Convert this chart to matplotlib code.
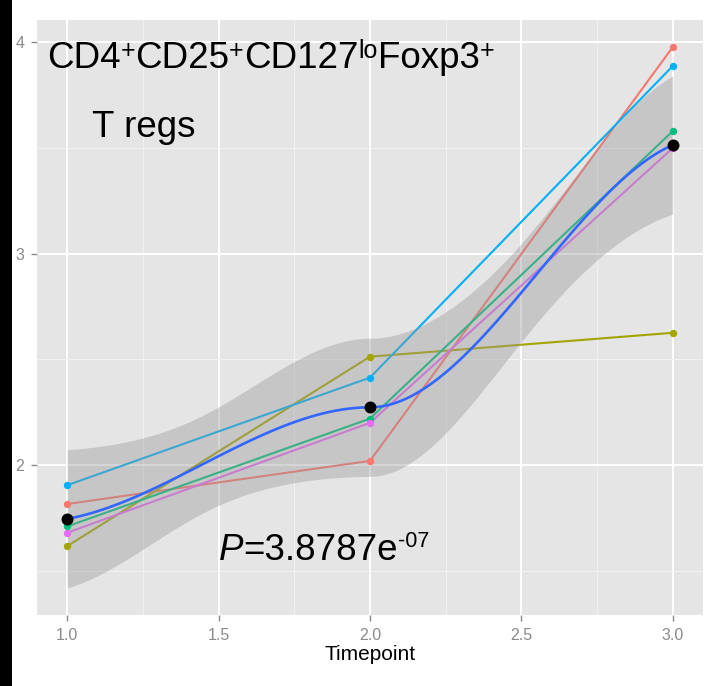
import numpy as np
import matplotlib
matplotlib.use("Agg")
import matplotlib.pyplot as plt
from matplotlib.patches import Rectangle

# ---------------- data ----------------
timepoints = [1.0, 2.0, 3.0]
subject_red = [1.816, 2.020, 3.978]
subject_olive = [1.617, 2.513, 2.626]
subject_green = [1.710, 2.220, 3.580]
subject_blue = [1.905, 2.414, 3.888]
subject_magenta = [1.680, 2.200, 3.500]
series = [subject_red, subject_olive, subject_green, subject_blue, subject_magenta]
series_colors = ['#F8766D', '#A3A500', '#00BF7D', '#00B0F6', '#E76BF3']

x_ticks = [1.0, 1.5, 2.0, 2.5, 3.0]
x_tick_labels = ['1.0', '1.5', '2.0', '2.5', '3.0']
y_ticks = [2, 3, 4]
y_tick_labels = ['2', '3', '4']
x_label = 'Timepoint'
# rich text pieces: (text, is_superscript, italic)
title_line1 = [('CD4', False, False), ('+', True, False), ('CD25', False, False),
               ('+', True, False), ('CD127', False, False), ('lo', True, False),
               ('Foxp3', False, False), ('+', True, False)]
title_line2 = [('T regs', False, False)]
p_label = [('P', False, True), ('=3.8787e', False, False), ('-07', True, False)]

LOESS_SPAN = 0.75
T_975_DF12 = 2.179  # 97.5% t quantile, 12 residual df

# ---------------- loess (kd-vertex + Hermite interpolation, as in R) ----------------
x_all = np.concatenate([np.asarray(timepoints) for _ in series])
y_all = np.concatenate([np.asarray(s) for s in series])


def vertex_rows(x, v, span):
    n = len(x)
    q = int(np.floor(n * span))
    d = np.abs(x - v)
    h = np.sort(d)[q - 1]
    r = d / h
    w = np.where(r < 1, (1 - r ** 3) ** 3, 0.0)
    sw = np.sqrt(w)
    u = x - v
    X = np.column_stack([np.ones(n), u, u ** 2]) * sw[:, None]
    norms = np.linalg.norm(X, axis=0)
    norms[norms == 0] = 1.0
    P = np.linalg.pinv(X / norms, rcond=1e-7) * sw[None, :]
    P = P / norms[:, None]
    return P[0], P[1]


verts = np.unique(x_all)
vrows = [vertex_rows(x_all, v, LOESS_SPAN) for v in verts]


def operator_at(xx):
    i = int(np.clip(np.searchsorted(verts, xx, side='right') - 1, 0, len(verts) - 2))
    x0, x1 = verts[i], verts[i + 1]
    hh = x1 - x0
    t = (xx - x0) / hh
    h00 = 2 * t ** 3 - 3 * t ** 2 + 1
    h10 = t ** 3 - 2 * t ** 2 + t
    h01 = -2 * t ** 3 + 3 * t ** 2
    h11 = t ** 3 - t ** 2
    return (h00 * vrows[i][0] + h10 * hh * vrows[i][1]
            + h01 * vrows[i + 1][0] + h11 * hh * vrows[i + 1][1])


grid = np.linspace(verts[0], verts[-1], 120)
L_grid = np.array([operator_at(g) for g in grid])
fit = L_grid @ y_all
L_data = np.array([operator_at(g) for g in x_all])
resid = y_all - L_data @ y_all
IL = np.eye(len(x_all)) - L_data
delta1 = np.trace(IL.T @ IL)
sigma = np.sqrt(np.sum(resid ** 2) / delta1)
se = sigma * np.linalg.norm(L_grid, axis=1)
lower = fit - T_975_DF12 * se
upper = fit + T_975_DF12 * se

means = np.mean(np.array(series), axis=0)

# ---------------- figure ----------------
plt.rcParams['font.family'] = ['Liberation Sans', 'DejaVu Sans']

W, H = 709, 686
fig = plt.figure(figsize=(W / 100, H / 100), dpi=100)
fig.patch.set_facecolor('white')
fig.add_artist(Rectangle((0, 0), 12 / W, 1, transform=fig.transFigure,
                         facecolor='black', edgecolor='none'))

ax = fig.add_axes([37 / W, 1 - 615 / H, (703 - 37) / W, (615 - 20) / H])
ax.set_facecolor('#E5E5E5')
for s in ax.spines.values():
    s.set_visible(False)

xmin, xmax = min(timepoints), max(timepoints)
xr = xmax - xmin
ax.set_xlim(xmin - 0.05 * xr, xmax + 0.05 * xr)
lo = min(y_all.min(), lower.min())
hi = max(y_all.max(), upper.max())
yr = hi - lo
ax.set_ylim(lo - 0.05 * yr, hi + 0.05 * yr)

ax.set_xticks(x_ticks)
ax.set_xticklabels(x_tick_labels)
ax.set_yticks(y_ticks)
ax.set_yticklabels(y_tick_labels)
ax.set_xticks([1.25, 1.75, 2.25, 2.75], minor=True)
ax.set_yticks([1.5, 2.5, 3.5], minor=True)
ax.grid(which='major', color='white', linewidth=1.4, zorder=0)
ax.grid(which='minor', color='#F2F2F2', linewidth=0.7, zorder=0)
ax.set_axisbelow(True)
ax.tick_params(which='major', length=4, width=1.0, color='#8A8A8A',
               labelcolor='#8A8A8A', labelsize=11.5, pad=5)
ax.tick_params(which='minor', length=0)

for ys, c in zip(series, series_colors):
    ax.plot(timepoints, ys, color=c, linewidth=1.5, zorder=2, solid_capstyle='round')

ax.fill_between(grid, lower, upper, color='#999999', alpha=0.4, linewidth=0, zorder=3)

for ys, c in zip(series, series_colors):
    ax.plot(timepoints, ys, linestyle='none', marker='o', markersize=5.3,
            markerfacecolor=c, markeredgecolor='none', zorder=4)

ax.plot(grid, fit, color='#3366FF', linewidth=1.9, zorder=5)

ax.plot(timepoints, means, linestyle='none', marker='o', markersize=8.6,
        markerfacecolor='black', markeredgecolor='none', zorder=6)

ax.set_xlabel(x_label, fontsize=15, color='black', labelpad=2)

# rich text annotations
renderer = fig.canvas.get_renderer()


def draw_rich(x_px, base_px, pieces, size, sup_size, sup_raise):
    x = x_px
    for txt, sup, ital in pieces:
        fs = sup_size if sup else size
        dy = sup_raise if sup else 0
        t = fig.text(x / W, 1 - (base_px - dy) / H, txt, fontsize=fs,
                     style='italic' if ital else 'normal',
                     va='baseline', ha='left', color='black')
        x += t.get_window_extent(renderer).width


draw_rich(47, 68, title_line1, 26.5, 18, 10)
draw_rich(92, 137, title_line2, 26.5, 18, 10)
draw_rich(219, 560, p_label, 26.5, 15.5, 13)

fig.savefig('out.png', dpi=100)
